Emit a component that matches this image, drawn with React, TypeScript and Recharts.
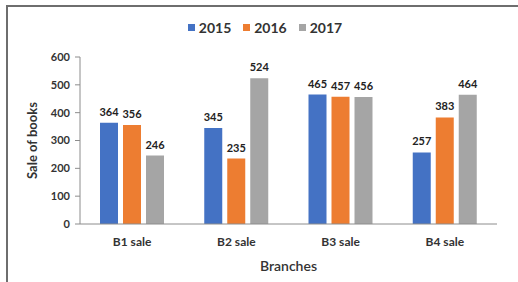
import { BarChart, Bar, XAxis, YAxis, Legend, LabelList } from 'recharts';

const branches = ['B1 sale', 'B2 sale', 'B3 sale', 'B4 sale'];
const sales2015 = [364, 345, 465, 257];
const sales2016 = [356, 235, 457, 383];
const sales2017 = [246, 524, 456, 464];
const yTicks = [0, 100, 200, 300, 400, 500, 600];

const series = [
  { key: 's2015', name: '2015', color: '#4472C4' },
  { key: 's2016', name: '2016', color: '#ED7D31' },
  { key: 's2017', name: '2017', color: '#A5A5A5' },
];

const data = branches.map((b, i) => ({
  branch: b,
  s2015: sales2015[i],
  s2016: sales2016[i],
  s2017: sales2017[i],
}));

const font = 'Lato, "Open Sans", sans-serif';

const LegendContent = () => (
  <div style={{ display: 'flex', justifyContent: 'center', fontFamily: font, fontWeight: 700, fontSize: 14, color: '#333', paddingTop: 1 }}>
    {series.map((s) => (
      <div key={s.key} style={{ display: 'flex', alignItems: 'center', marginRight: 12 }}>
        <span style={{ width: 7, height: 7, background: s.color, marginRight: 4, display: 'inline-block' }} />
        {s.name}
      </div>
    ))}
  </div>
);

export default function App() {
  return (
    <div style={{ position: 'absolute', left: 0, top: 0, width: 518, height: 282, background: '#fff', overflow: 'hidden' }}>
      <div style={{ position: 'absolute', left: 6, top: 5, width: 540, height: 300, borderLeft: '2px solid #6e6e6e', borderTop: '2px solid #6e6e6e' }} />
      <BarChart
        width={518}
        height={282}
        data={data}
        margin={{ top: 18, right: 21, left: 0, bottom: 0 }}
        barCategoryGap={20}
        barGap={5}
        style={{ fontFamily: font }}
      >
        <Legend verticalAlign="top" height={39} content={<LegendContent />} wrapperStyle={{ left: 12, width: 518 }} />
        <XAxis
          dataKey="branch"
          height={58}
          tickLine={false}
          tickMargin={7}
          axisLine={{ stroke: '#8c8c8c' }}
          tick={{ fill: '#333', fontSize: 12, fontWeight: 700 }}
          label={{ value: 'Branches', position: 'insideBottom', offset: 11, fill: '#333', fontSize: 14, fontWeight: 600 }}
        />
        <YAxis
          width={80}
          domain={[0, 600]}
          ticks={yTicks}
          tickSize={5}
          tickMargin={5}
          axisLine={{ stroke: '#8c8c8c' }}
          tickLine={{ stroke: '#8c8c8c' }}
          tick={{ fill: '#333', fontSize: 11, fontWeight: 700 }}
          label={{ value: 'Sale of books', angle: -90, position: 'insideLeft', offset: 32, fill: '#333', fontSize: 13, fontWeight: 700, style: { textAnchor: 'middle' } }}
        />
        {series.map((s) => (
          <Bar key={s.key} dataKey={s.key} name={s.name} fill={s.color} isAnimationActive={false}>
            <LabelList dataKey={s.key} position="top" offset={7} fill="#222" fontSize={11} fontWeight={700} />
          </Bar>
        ))}
      </BarChart>
    </div>
  );
}
